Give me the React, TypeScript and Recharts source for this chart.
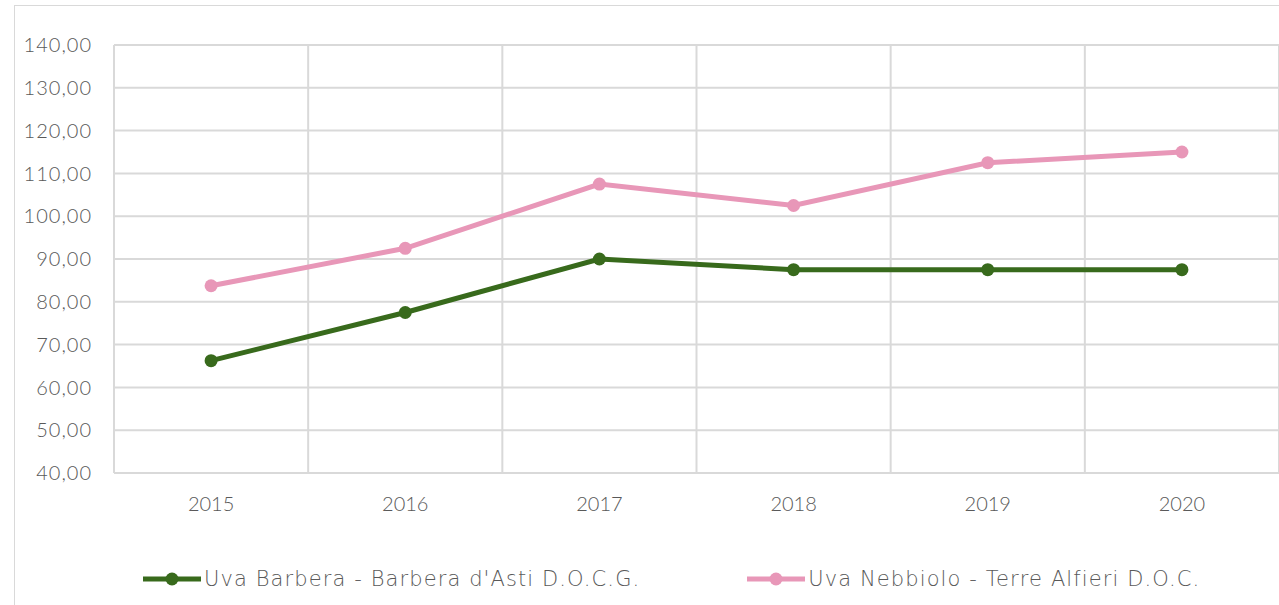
import { LineChart, Line, XAxis, YAxis, CartesianGrid, Legend } from 'recharts';

const years = ['2015', '2016', '2017', '2018', '2019', '2020'];
const barbera = [66.25, 77.5, 90, 87.5, 87.5, 87.5];
const nebbiolo = [83.75, 92.5, 107.5, 102.5, 112.5, 115];
const yTicks = [40, 50, 60, 70, 80, 90, 100, 110, 120, 130, 140];

const seriesNames = {
  barbera: "Uva Barbera - Barbera d'Asti D.O.C.G.",
  nebbiolo: 'Uva Nebbiolo - Terre Alfieri D.O.C.',
};

const data = years.map((year, i) => ({
  year,
  barbera: barbera[i],
  nebbiolo: nebbiolo[i],
}));

const GREEN = '#386a1c';
const PINK = '#e897b8';
const FONT = 'Lato, "DejaVu Sans", sans-serif';
const LEGEND_FONT = '"DejaVu Sans", Lato, sans-serif';

const fmt = (v: number) => v.toFixed(2).replace('.', ',');

// grid lines sit on category boundaries, like Excel
const bandLines = ({ offset }: any) =>
  years.map((_, i) => offset.left + (i * offset.width) / years.length).concat(offset.left + offset.width);

function LegendBox({ payload }: any) {
  return (
    <div
      style={{
        display: 'flex',
        paddingLeft: 143,
        gap: 107,
        fontFamily: LEGEND_FONT,
        fontWeight: 300,
        fontSize: 21,
        letterSpacing: 1.1,
        color: '#595959',
      }}
    >
      {(payload || []).map((p: any) => (
        <div key={p.dataKey} style={{ display: 'flex', alignItems: 'center' }}>
          <svg width={58} height={16} style={{ marginRight: 3 }}>
            <line x1={0} y1={8} x2={58} y2={8} stroke={p.color} strokeWidth={5} />
            <circle cx={29} cy={8} r={6.5} fill={p.color} />
          </svg>
          <span>{p.value}</span>
        </div>
      ))}
    </div>
  );
}

export default function App() {
  return (
    <div style={{ position: 'absolute', left: 0, top: 0, width: 1279, height: 605, overflow: 'hidden', background: '#fff' }}>
      <div style={{ position: 'absolute', left: 14, top: 5, width: 1300, height: 700, border: '1px solid #d9d9d9' }} />
      <LineChart
        width={1279}
        height={605}
        data={data}
        margin={{ top: 45, right: 0, bottom: 8, left: 14 }}
        style={{ position: 'absolute', left: 0, top: 0 }}
      >
        <CartesianGrid stroke="#d9d9d9" strokeWidth={2} verticalCoordinatesGenerator={bandLines} />
        <XAxis
          dataKey="year"
          scale="band"
          tickLine={false}
          axisLine={{ stroke: '#d9d9d9', strokeWidth: 2 }}
          tickSize={0}
          tickMargin={24}
          height={100}
          tick={{ fill: '#595959', fontSize: 20, fontFamily: FONT, fontWeight: 300 }}
        />
        <YAxis
          domain={[40, 140]}
          ticks={yTicks}
          tickFormatter={fmt}
          width={100}
          tickLine={false}
          axisLine={false}
          tickSize={0}
          tickMargin={22}
          tick={{ fill: '#595959', fontSize: 20, fontFamily: FONT, fontWeight: 300, letterSpacing: 1 }}
        />
        <Legend
          verticalAlign="bottom"
          content={<LegendBox />}
          wrapperStyle={{ left: 0, width: 1279, bottom: 14 }}
        />
        <Line
          type="linear"
          dataKey="barbera"
          name={seriesNames.barbera}
          stroke={GREEN}
          strokeWidth={5}
          dot={{ r: 6.5, fill: GREEN, stroke: GREEN, strokeWidth: 0 }}
          activeDot={false}
          isAnimationActive={false}
        />
        <Line
          type="linear"
          dataKey="nebbiolo"
          name={seriesNames.nebbiolo}
          stroke={PINK}
          strokeWidth={5}
          dot={{ r: 6.5, fill: PINK, stroke: PINK, strokeWidth: 0 }}
          activeDot={false}
          isAnimationActive={false}
        />
      </LineChart>
    </div>
  );
}
